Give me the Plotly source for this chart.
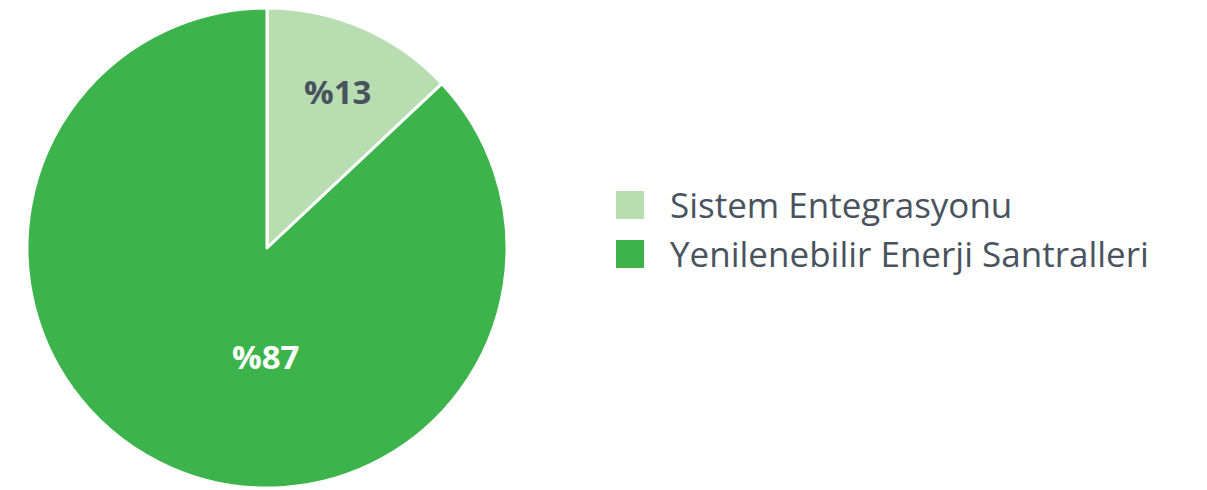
import plotly.graph_objects as go

labels = ["Sistem Entegrasyonu", "Yenilenebilir Enerji Santralleri"]
values = [13, 87]
colors = ["#b8ddb1", "#3cb44b"]
text_colors = ["#48535e", "#ffffff"]

W, H = 1199, 482  # page body has an 8px margin


def px(x):
    return x / W


def py(y):
    return 1 - y / H


fig = go.Figure()
fig.add_trace(go.Pie(
    labels=labels,
    values=values,
    sort=False,
    direction="clockwise",
    marker=dict(colors=colors, line=dict(color="white", width=3)),
    textinfo="none",
    hoverinfo="label+percent",
    showlegend=False,
    domain=dict(x=[px(19), px(499)], y=[py(480), 1]),
))

# percentage labels
label_pos = [(329, 83), (257, 348)]
for v, tc, (x, y) in zip(values, text_colors, label_pos):
    fig.add_annotation(xref="paper", yref="paper", x=px(x), y=py(y),
                       text=f"%{v}", showarrow=False,
                       xanchor="center", yanchor="middle",
                       font=dict(family="Open Sans", size=33, color=tc, weight="bold"))

# custom legend with big squares
for i, (lab, col) in enumerate(zip(labels, colors)):
    y0 = 183 + i * 49
    fig.add_shape(type="rect", xref="paper", yref="paper",
                  x0=px(608), x1=px(636), y0=py(y0 + 28), y1=py(y0),
                  fillcolor=col, line_width=0)
    fig.add_annotation(xref="paper", yref="paper", x=px(660), y=py(y0 + 13),
                       text=lab, showarrow=False, xanchor="left", yanchor="middle",
                       font=dict(family="Open Sans", size=35, color="#48535e"))

fig.update_layout(
    width=W, height=H,
    margin=dict(l=0, r=0, t=0, b=0),
    paper_bgcolor="white", plot_bgcolor="white",
)

fig.write_html("out.html")
